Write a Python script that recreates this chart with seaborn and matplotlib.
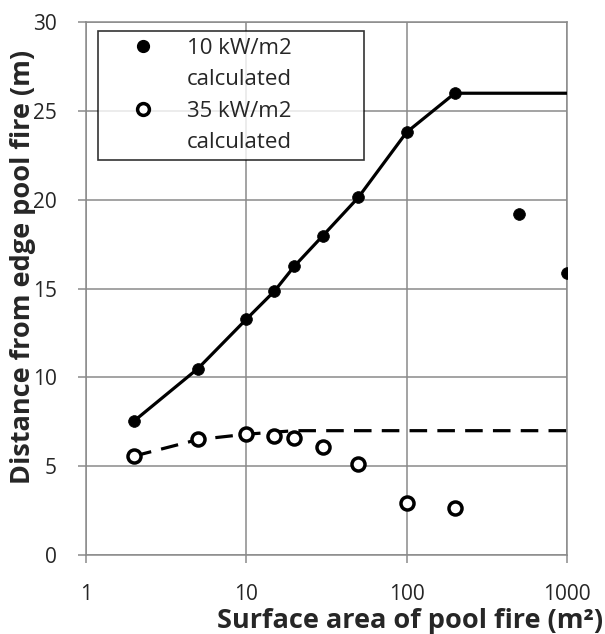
import numpy as np
import pandas as pd
import matplotlib
matplotlib.use("Agg")
import matplotlib.pyplot as plt
from matplotlib.lines import Line2D
import seaborn as sns

# data
area_10 = [2, 5, 10, 15, 20, 30, 50, 100, 200, 500, 1000]
dist_10 = [7.55, 10.5, 13.27, 14.86, 16.27, 17.97, 20.13, 23.8, 26.0, 19.19, 15.9]

area_35 = [2, 5, 10, 15, 20, 30, 50, 100, 200]
dist_35 = [5.57, 6.51, 6.79, 6.71, 6.58, 6.08, 5.1, 2.93, 2.65]

# fitted curves
fit10_x = [2, 5, 10, 15, 20, 30, 50, 100, 200, 1000]
fit10_y = [7.55, 10.5, 13.27, 14.86, 16.27, 17.97, 20.13, 23.8, 26.0, 26.0]
fit35_x = [2, 5, 10, 20, 1000]
fit35_y = [5.57, 6.5, 6.8, 7.0, 7.0]

x_ticks = [1, 10, 100, 1000]
x_tick_labels = ["1", "10", "100", "1000"]
y_ticks = [0, 5, 10, 15, 20, 25, 30]

pts10 = pd.DataFrame({"area": area_10, "dist": dist_10})
pts35 = pd.DataFrame({"area": area_35, "dist": dist_35})
fit10 = pd.DataFrame({"area": fit10_x, "dist": fit10_y})
fit35 = pd.DataFrame({"area": fit35_x, "dist": fit35_y})

sns.set_style("white")
plt.rcParams["font.family"] = ["Open Sans", "DejaVu Sans"]

fig = plt.figure(figsize=(6.05, 6.34), dpi=100)
ax = fig.add_axes([0.142, 0.1246, 0.795, 0.8404])
ax.set_xscale("log")

# lines
sns.lineplot(data=fit10, x="area", y="dist", ax=ax, color="black",
             linewidth=2.3, sort=False, estimator=None, zorder=3)
sns.lineplot(data=fit35, x="area", y="dist", ax=ax, color="black",
             linewidth=2.3, sort=False, estimator=None, zorder=3)
ax.lines[-1].set_dashes([5.5, 3.2])

# points
sns.scatterplot(data=pts10, x="area", y="dist", ax=ax, color="black",
                s=72, edgecolor="black", linewidth=0.5, zorder=4)
sns.scatterplot(data=pts35, x="area", y="dist", ax=ax, facecolor="white",
                s=88, edgecolor="black", linewidth=2.5, zorder=4)

ax.set_xlim(1, 1000)
ax.set_ylim(0, 30)
ax.set_xticks(x_ticks)
ax.set_xticklabels(x_tick_labels)
ax.minorticks_off()
ax.set_yticks(y_ticks)

ax.grid(True, color="#8a8a8a", linewidth=1.1)
for s in ax.spines.values():
    s.set_color("#8a8a8a")
    s.set_linewidth(1.1)
ax.tick_params(axis="both", direction="out", length=6, width=1.1,
               color="#8a8a8a", labelsize=15)
ax.tick_params(axis="y", pad=15)
ax.tick_params(axis="x", pad=15)
ax.tick_params(left=True, bottom=True)

ax.set_xlabel("Surface area of pool fire (m²)", fontsize=19.5, fontweight="bold")
ax.xaxis.set_label_coords(1.075, -0.123)
ax.xaxis.label.set_ha("right")
ax.xaxis.label.set_va("center")
ax.set_ylabel("Distance from edge pool fire (m)", fontsize=19.5, fontweight="bold")
ax.yaxis.set_label_coords(-0.131, 0.54)
ax.yaxis.label.set_va("center")

# legend: marker on the first line of each two-line label
h10 = Line2D([], [], linestyle="none", marker="o", markersize=8.5,
             markerfacecolor="black", markeredgecolor="black")
h35 = Line2D([], [], linestyle="none", marker="o", markersize=8.5,
             markerfacecolor="white", markeredgecolor="black",
             markeredgewidth=2.5)
blank = Line2D([], [], linestyle="none")
leg = ax.legend([h10, blank, h35, blank],
                ["10 kW/m2", "calculated", "35 kW/m2", "calculated"],
                loc="upper left", bbox_to_anchor=(0.025, 0.983, 0.553, 0),
                mode="expand", borderaxespad=0, fontsize=16, frameon=True,
                fancybox=False, handletextpad=0.2, borderpad=0.3,
                labelspacing=0.47, handlelength=3.5)
leg.get_frame().set_edgecolor("black")
leg.get_frame().set_linewidth(1.2)

fig.savefig("out.png", dpi=100)
